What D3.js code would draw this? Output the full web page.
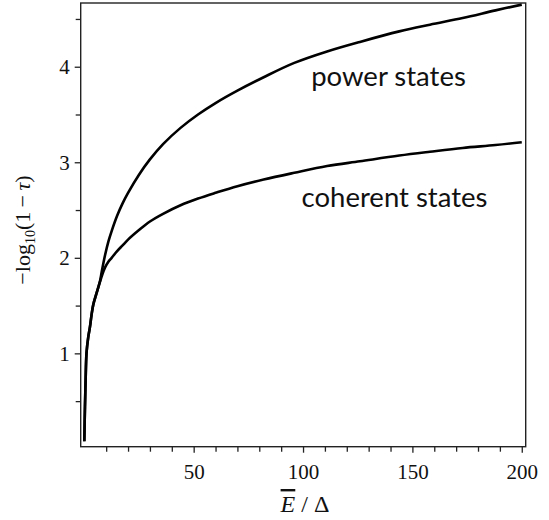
<!DOCTYPE html>
<html><head><meta charset="utf-8">
<script src="https://cdn.jsdelivr.net/npm/d3@7"></script>
<style>body{margin:0;background:#fff}svg{display:block}</style>
</head><body><svg id="c" width="549" height="520"></svg>
<script>
const xValues        = [0, 0.3, 0.6, 1, 1.8, 2.6, 3.3, 4.1, 5.6, 7.2, 8, 9.5, 11, 12.5, 15, 17.5, 20, 25, 30, 36, 44, 52, 60, 70, 82, 96, 111, 126, 144, 158, 173, 188, 200];
const powerStates    = [0.08, 0.44, 0.72, 1.0, 1.17, 1.28, 1.40, 1.51, 1.63, 1.76, 1.86, 2.03, 2.17, 2.28, 2.44, 2.57, 2.68, 2.87, 3.03, 3.19, 3.36, 3.50, 3.62, 3.75, 3.89, 4.04, 4.16, 4.26, 4.37, 4.44, 4.51, 4.59, 4.65];
const coherentStates = [0.08, 0.44, 0.72, 1.0, 1.17, 1.28, 1.40, 1.51, 1.63, 1.75, 1.81, 1.90, 1.96, 2.00, 2.07, 2.13, 2.19, 2.29, 2.38, 2.46, 2.55, 2.62, 2.68, 2.75, 2.82, 2.89, 2.96, 3.01, 3.07, 3.11, 3.15, 3.18, 3.21];
const xMajorTicks = [50, 100, 150, 200];
const xMinorTicks = [10, 20, 30, 40, 60, 70, 80, 90, 110, 120, 130, 140, 160, 170, 180, 190];
const yMajorTicks = [1, 2, 3, 4];
const yMinorTicks = [0.5, 1.5, 2.5, 3.5, 4.5];
const labels = ["power states", "coherent states"];

const svg = d3.select("#c");
const L = 80.7, R = 525.7, T = 3, B = 446.7;
const x = d3.scaleLinear().domain([-1.65, 201.8]).range([L, R]);
const y = d3.scaleLinear().domain([0.023, 4.667]).range([B, T]);

function styleAxis(g){
  g.select(".domain").remove();
  g.selectAll("line").attr("stroke","#222").attr("stroke-width",1.3);
  g.selectAll("text").attr("font-family","'Liberation Serif','Times New Roman',serif").attr("font-size",21).attr("fill","#111");
}
svg.append("g").attr("transform",`translate(0,${B})`)
  .call(d3.axisBottom(x).tickValues(xMajorTicks).tickSize(6).tickPadding(11).tickFormat(d3.format("d"))).call(styleAxis);
svg.append("g").attr("transform",`translate(0,${B})`)
  .call(d3.axisBottom(x).tickValues(xMinorTicks).tickSize(5).tickFormat("")).call(styleAxis);
svg.append("g").attr("transform",`translate(${L},0)`)
  .call(d3.axisLeft(y).tickValues(yMajorTicks).tickSize(6).tickPadding(5).tickFormat(d3.format("d"))).call(styleAxis);
svg.append("g").attr("transform",`translate(${L},0)`)
  .call(d3.axisLeft(y).tickValues(yMinorTicks).tickSize(5).tickFormat("")).call(styleAxis);

svg.append("rect").attr("x",L).attr("y",T).attr("width",R-L).attr("height",B-T)
  .attr("fill","none").attr("stroke","#222").attr("stroke-width",1.4);

const line = d3.line().x((d,i)=>x(xValues[i])).y(d=>y(d)).curve(d3.curveCatmullRom.alpha(0.5));
[powerStates, coherentStates].forEach(s=>{
  svg.append("path").datum(s).attr("d",line).attr("fill","none").attr("stroke","#000").attr("stroke-width",2.6);
});

const sans = "Lato, 'Open Sans', sans-serif";
svg.append("text").attr("x",388.5).attr("y",86).attr("text-anchor","middle").attr("font-family",sans).attr("font-size",27.5).attr("fill","#111").text(labels[0]);
svg.append("text").attr("x",394.5).attr("y",207).attr("text-anchor","middle").attr("font-family",sans).attr("font-size",27.5).attr("fill","#111").text(labels[1]);

const serif = "'Liberation Serif','Times New Roman',serif";
const yl = svg.append("text").attr("transform","translate(30,230) rotate(-90)").attr("text-anchor","middle")
  .attr("font-family",serif).attr("font-size",22).attr("fill","#111");
yl.append("tspan").text("\u2212log");
yl.append("tspan").attr("font-size",14).attr("dy",5).text("10");
yl.append("tspan").attr("dy",-5).text("(1\u2009\u2212\u2009");
yl.append("tspan").attr("font-style","italic").text("\u03C4");
yl.append("tspan").text(")");

const xl = svg.append("text").attr("x",305).attr("y",512).attr("text-anchor","middle")
  .attr("font-family",serif).attr("font-size",24).attr("fill","#111");
xl.append("tspan").attr("font-style","italic").attr("text-decoration","overline").text("E");
xl.append("tspan").text(" / \u0394");
</script></body></html>
